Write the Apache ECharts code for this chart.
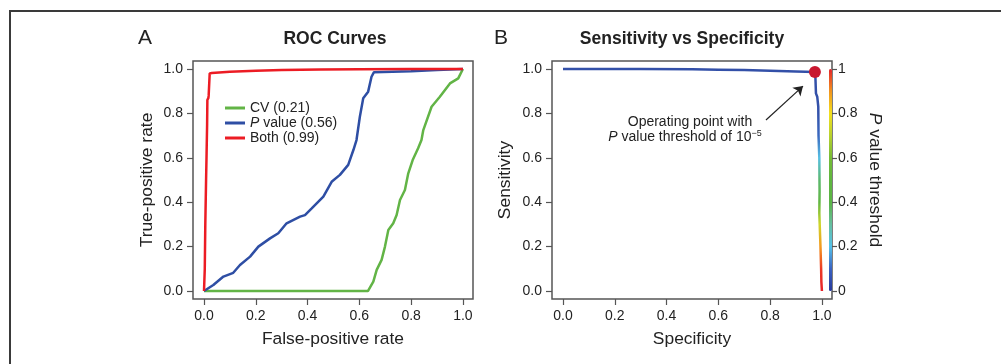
<!DOCTYPE html>
<html>
<head>
<meta charset="utf-8">
<script src="https://cdn.jsdelivr.net/npm/echarts@6/dist/echarts.min.js"></script>
<style>
  html, body { margin: 0; padding: 0; background: #fff; }
  #chart { width: 1001px; height: 364px; }
</style>
</head>
<body>
<div id="chart"></div>
<script>
// 刻度值
const tickValues = [0, 0.2, 0.4, 0.6, 0.8, 1.0]

// A: ROC 曲线 (false-positive rate, true-positive rate)
const cvName = 'CV (0.21)'
const cvFpr = [0, 0.633, 0.654, 0.667, 0.686, 0.699, 0.712, 0.731, 0.744, 0.757, 0.776, 0.789, 0.806, 0.827, 0.84, 0.847, 0.879, 0.911, 0.95, 0.982, 1]
const cvTpr = [0, 0, 0.042, 0.095, 0.14, 0.2, 0.275, 0.305, 0.342, 0.41, 0.455, 0.53, 0.59, 0.643, 0.68, 0.725, 0.83, 0.875, 0.935, 0.958, 1]

const pName = 'P value (0.56)'
const pFpr = [0, 0.036, 0.075, 0.113, 0.139, 0.178, 0.21, 0.255, 0.287, 0.319, 0.371, 0.39, 0.416, 0.461, 0.493, 0.525, 0.557, 0.577, 0.589, 0.602, 0.615, 0.634, 0.647, 0.656, 0.8, 0.9, 1]
const pTpr = [0, 0.027, 0.065, 0.082, 0.117, 0.155, 0.2, 0.237, 0.26, 0.305, 0.335, 0.342, 0.372, 0.425, 0.492, 0.523, 0.568, 0.635, 0.68, 0.785, 0.868, 0.898, 0.965, 0.985, 0.99, 0.996, 1]

const bothName = 'Both (0.99)'
const bothFpr = [0, 0.003, 0.005, 0.008, 0.01, 0.012, 0.013, 0.017, 0.018, 0.022, 0.03, 0.1, 0.2, 0.3, 0.45, 0.6, 0.8, 1]
const bothTpr = [0, 0.1, 0.3, 0.5, 0.62, 0.75, 0.86, 0.87, 0.88, 0.98, 0.982, 0.988, 0.992, 0.995, 0.998, 0.999, 1, 1]

// B: sensitivity vs specificity
const specB = [0, 0.1, 0.3, 0.5, 0.6, 0.7, 0.8, 0.9, 0.973, 0.975, 0.977, 0.982, 0.986, 0.987, 0.99, 0.991, 0.99, 0.993, 0.995, 0.997, 0.998, 1.0]
const sensB = [1, 1, 1, 0.999, 0.997, 0.995, 0.992, 0.989, 0.986, 0.96, 0.89, 0.875, 0.83, 0.7, 0.6, 0.45, 0.35, 0.25, 0.18, 0.1, 0.04, 0]
// 工作点 和 箭头
const opPoint = [0.973, 0.986]
const arrowFrom = [0.784, 0.77]
const arrowTo = [0.927, 0.923]

const zip = (xs, ys) => xs.map((x, i) => [x, ys[i]])

const FONT = '"Liberation Sans", Arial, Helvetica, sans-serif'
const AXIS_COLOR = '#555'
const TEXT_COLOR = '#222'

const oneDec = v => v.toFixed(1)

// 通用的数值轴
const valueAxis = (opts) => Object.assign({
  type: 'value',
  nameLocation: 'middle',
  nameTextStyle: { fontSize: 17.4, color: TEXT_COLOR, fontFamily: FONT },
  axisLine: { show: false, onZero: false },
  axisTick: { show: true, inside: false, length: 6, customValues: tickValues, lineStyle: { color: AXIS_COLOR, width: 1.2 } },
  axisLabel: { customValues: tickValues, formatter: oneDec, fontSize: 14, color: TEXT_COLOR, fontFamily: FONT, margin: 10 },
  splitLine: { show: false }
}, opts)

const chart = echarts.init(document.getElementById('chart'))

const option = {
  animation: false,
  grid: [
    { left: 193, top: 61, width: 280, height: 238, show: true, borderColor: AXIS_COLOR, borderWidth: 1.5 },
    { left: 552, top: 61, width: 280, height: 238, show: true, borderColor: AXIS_COLOR, borderWidth: 1.5 }
  ],
  xAxis: [
    valueAxis({ gridIndex: 0, min: -0.0425, max: 1.039, name: 'False-positive rate', nameGap: 32 }),
    valueAxis({ gridIndex: 1, min: -0.0425, max: 1.039, name: 'Specificity', nameGap: 32 })
  ],
  yAxis: [
    valueAxis({ gridIndex: 0, min: -0.036, max: 1.036, name: 'True-positive rate', nameGap: 37 }),
    valueAxis({ gridIndex: 1, min: -0.036, max: 1.036, name: 'Sensitivity', nameGap: 38 }),
    valueAxis({
      gridIndex: 1, position: 'right', min: -0.036, max: 1.036,
      name: '{i|P} value threshold', nameGap: 34, nameRotate: -90,
      nameTextStyle: {
        fontSize: 17.4, color: TEXT_COLOR, fontFamily: FONT,
        rich: { i: { fontStyle: 'italic', fontSize: 17.4, color: TEXT_COLOR, fontFamily: FONT } }
      },
      axisTick: { show: true, inside: false, length: 5, customValues: tickValues, lineStyle: { color: AXIS_COLOR, width: 1.2 } },
      axisLabel: {
        customValues: tickValues, fontSize: 14, color: TEXT_COLOR, fontFamily: FONT, margin: 6,
        formatter: v => (v === 0 || v === 1) ? String(v) : v.toFixed(1)
      }
    })
  ],
  legend: {
    data: [cvName, pName, bothName],
    orient: 'vertical',
    left: 225,
    top: 101,
    itemWidth: 20,
    itemHeight: 3,
    itemGap: 1,
    icon: 'rect',
    padding: 0,
    textStyle: {
      fontSize: 14, color: TEXT_COLOR, fontFamily: FONT,
      rich: { i: { fontStyle: 'italic', fontSize: 14, color: TEXT_COLOR, fontFamily: FONT } }
    },
    formatter: name => name.replace(/^P /, '{i|P} ')
  },
  visualMap: [
    {
      // 曲线颜色 (按 sensitivity 映射)
      type: 'continuous', show: false, seriesIndex: 3, dimension: 1, min: 0, max: 1,
      inRange: { color: ['#e8242a', '#ec3a26', '#f39a20', '#cfd62a', '#62b744', '#5cb86e', '#58c0e4', '#3a68bf', '#3352aa', '#3350a8', '#3350a8'] }
    },
    {
      // 右侧色条
      type: 'continuous', show: true, seriesIndex: [], min: 0, max: 1,
      left: 829, top: 69, itemWidth: 3, itemHeight: 222, padding: 0, calculable: false,
      inRange: { color: ['#28399a', '#3a62c2', '#55c2ea', '#66bfa0', '#5bb446', '#5fb640', '#76bc36', '#b9d22e', '#f3e01e', '#f2941e', '#e4232a'] }
    }
  ],
  graphic: [
    { type: 'rect', shape: { x: 10, y: 11, width: 1100, height: 500 }, style: { fill: 'none', stroke: '#3a3a3a', lineWidth: 2 }, silent: true },
    { type: 'text', x: 145, y: 38, style: { text: 'A', font: '21px ' + FONT, fill: TEXT_COLOR, align: 'center', verticalAlign: 'middle' } },
    { type: 'text', x: 335, y: 39, style: { text: 'ROC Curves', font: 'bold 17.5px ' + FONT, fill: TEXT_COLOR, align: 'center', verticalAlign: 'middle' } },
    { type: 'text', x: 501, y: 38, style: { text: 'B', font: '21px ' + FONT, fill: TEXT_COLOR, align: 'center', verticalAlign: 'middle' } },
    { type: 'text', x: 682, y: 39, style: { text: 'Sensitivity vs Specificity', font: 'bold 17.5px ' + FONT, fill: TEXT_COLOR, align: 'center', verticalAlign: 'middle' } },
    { type: 'text', x: 690, y: 122, style: { text: 'Operating point with', font: '14px ' + FONT, fill: TEXT_COLOR, align: 'center', verticalAlign: 'middle' } },
    {
      type: 'text', x: 685, y: 137,
      style: {
        text: '{i|P} value threshold of 10{s|\u22125}',
        font: '14px ' + FONT, fill: TEXT_COLOR, align: 'center', verticalAlign: 'middle',
        rich: {
          i: { fontStyle: 'italic', fontSize: 14, fontFamily: FONT, fill: TEXT_COLOR },
          s: { fontSize: 9, fontFamily: FONT, fill: TEXT_COLOR, verticalAlign: 'top', lineHeight: 16 }
        }
      }
    }
  ],
  series: [
    { name: cvName, type: 'line', xAxisIndex: 0, yAxisIndex: 0, data: zip(cvFpr, cvTpr), symbol: 'none', color: '#62b446', lineStyle: { width: 2.5, color: '#62b446' } },
    { name: pName, type: 'line', xAxisIndex: 0, yAxisIndex: 0, data: zip(pFpr, pTpr), symbol: 'none', color: '#2e4ea4', lineStyle: { width: 2.5, color: '#2e4ea4' } },
    { name: bothName, type: 'line', xAxisIndex: 0, yAxisIndex: 0, data: zip(bothFpr, bothTpr), symbol: 'none', color: '#ec1c24', lineStyle: { width: 2.5, color: '#ec1c24' } },
    { name: 'curveB', type: 'line', xAxisIndex: 1, yAxisIndex: 1, data: zip(specB, sensB), symbol: 'none', lineStyle: { width: 2.5 } },
    {
      name: 'operating', type: 'scatter', xAxisIndex: 1, yAxisIndex: 1, data: [opPoint],
      symbolSize: 12, itemStyle: { color: '#c8172f', opacity: 1 }, z: 5,
      markLine: {
        silent: true, symbol: ['none', 'arrow'], symbolSize: 9,
        label: { show: false },
        lineStyle: { color: '#222', width: 1.2, type: 'solid' },
        itemStyle: { color: '#222' },
        data: [[{ coord: arrowFrom }, { coord: arrowTo }]]
      }
    }
  ]
}

chart.setOption(option)
</script>
</body>
</html>
